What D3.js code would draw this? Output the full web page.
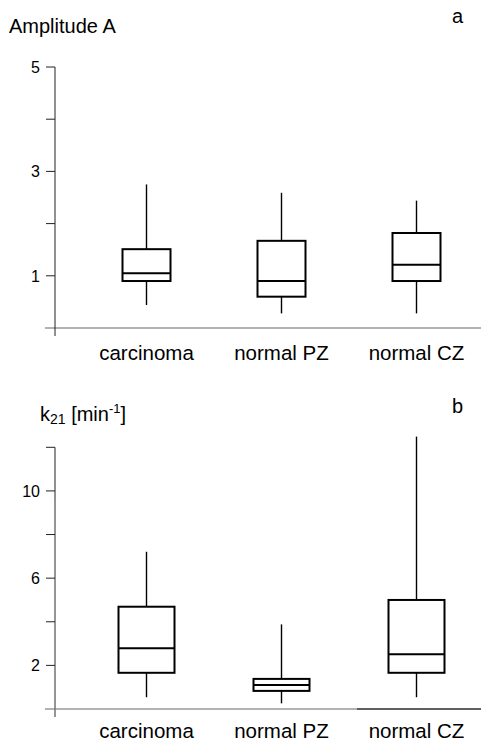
<!DOCTYPE html>
<html>
<head>
<meta charset="utf-8">
<script src="https://cdn.jsdelivr.net/npm/d3@7"></script>
<style>
  body { margin: 0; background: #fff; }
  text { font-family: "Liberation Sans", Arial, sans-serif; fill: #000; }
</style>
</head>
<body>
<svg id="chart"></svg>
<script>
const categories = ["carcinoma", "normal PZ", "normal CZ"];

// box stats: [min, q1, median, q3, max]
const amplitudeStats = [
    [0.44, 0.90, 1.05, 1.51, 2.75],
    [0.28, 0.60, 0.90, 1.67, 2.59],
    [0.28, 0.90, 1.21, 1.82, 2.44]
];
const k21Stats = [
    [0.54, 1.66, 2.78, 4.69, 7.21],
    [0.26, 0.83, 1.10, 1.38, 3.88],
    [0.54, 1.66, 2.51, 5.00, 12.49]
];

const amplitudeMajor = [1, 3, 5], amplitudeMinor = [2, 4];
const k21Major = [2, 6, 10], k21Minor = [4, 8, 12];

(function () {
    const width = 481, height = 746;
    const svg = d3.select("#chart").attr("width", width).attr("height", height);

    const x = d3.scaleBand().domain(categories).range([79, 484]);
    const axisX = 55;

    function panel(opts) {
        const y = d3.scaleLinear().domain(opts.domain).range(opts.range);
        const g = svg.append("g");
        const y0 = y(0);

        // x axis line
        g.append("line")
            .attr("x1", axisX - 10).attr("x2", width)
            .attr("y1", y0).attr("y2", y0)
            .attr("stroke", opts.xAxisColor).attr("stroke-width", 1.3);
        if (opts.xDarkFrom) {
            g.append("line")
                .attr("x1", opts.xDarkFrom).attr("x2", width)
                .attr("y1", y0).attr("y2", y0)
                .attr("stroke", "#444").attr("stroke-width", 1.3);
        }

        // y axis line
        const yTop = y(opts.domain[1]);
        g.append("line")
            .attr("x1", axisX).attr("x2", axisX)
            .attr("y1", yTop).attr("y2", y0 + 8)
            .attr("stroke", "#222").attr("stroke-width", 1);
        if (opts.yGreyBelow != null) {
            g.append("line")
                .attr("x1", axisX).attr("x2", axisX)
                .attr("y1", y(opts.yGreyBelow)).attr("y2", y0 + 8)
                .attr("stroke", "#999").attr("stroke-width", 1.2);
        }

        // ticks
        const ticks = opts.major.concat(opts.minor);
        g.selectAll("line.tick")
            .data(ticks)
            .enter()
            .append("line")
            .attr("class", "tick")
            .attr("x1", axisX - 9).attr("x2", axisX)
            .attr("y1", d => y(d)).attr("y2", d => y(d))
            .attr("stroke", "#222").attr("stroke-width", 1);

        g.selectAll("text.tl")
            .data(opts.major)
            .enter()
            .append("text")
            .attr("class", "tl")
            .attr("x", axisX - 15)
            .attr("y", d => y(d))
            .attr("dy", "0.36em")
            .attr("text-anchor", "end")
            .style("font-size", "16px")
            .text(d => d);

        // category labels
        g.selectAll("text.cat")
            .data(categories)
            .enter()
            .append("text")
            .attr("class", "cat")
            .attr("x", d => x(d) + x.bandwidth() / 2)
            .attr("y", y0 + opts.catOffset)
            .attr("text-anchor", "middle")
            .style("font-size", "20.5px")
            .text(d => d);

        // boxes
        const bw = opts.boxWidth;
        const boxes = g.selectAll("g.box")
            .data(opts.stats)
            .enter()
            .append("g")
            .attr("class", "box")
            .attr("transform", (d, i) => `translate(${x(categories[i]) + x.bandwidth() / 2},0)`);

        boxes.append("line")
            .attr("x1", 0).attr("x2", 0)
            .attr("y1", d => y(d[3])).attr("y2", d => y(d[4]))
            .attr("stroke", "#000").attr("stroke-width", 1.4);
        boxes.append("line")
            .attr("x1", 0).attr("x2", 0)
            .attr("y1", d => y(d[0])).attr("y2", d => y(d[1]))
            .attr("stroke", "#000").attr("stroke-width", 1.4);
        boxes.append("rect")
            .attr("x", -bw / 2).attr("width", bw)
            .attr("y", d => y(d[3]))
            .attr("height", d => y(d[1]) - y(d[3]))
            .attr("fill", "#fff").attr("stroke", "#000").attr("stroke-width", 2);
        boxes.append("line")
            .attr("x1", -bw / 2).attr("x2", bw / 2)
            .attr("y1", d => y(d[2])).attr("y2", d => y(d[2]))
            .attr("stroke", "#000").attr("stroke-width", 2);

        return g;
    }

    panel({
        domain: [0, 5], range: [328, 67],
        stats: amplitudeStats, major: amplitudeMajor, minor: amplitudeMinor,
        boxWidth: 48, catOffset: 32, xAxisColor: "#999"
    });

    panel({
        domain: [0, 12], range: [709, 447.3],
        stats: k21Stats, major: k21Major, minor: k21Minor,
        boxWidth: 56, catOffset: 29, xAxisColor: "#999", xDarkFrom: 357, yGreyBelow: 9.6
    });

    // titles
    svg.append("text").attr("x", 9).attr("y", 33)
        .style("font-size", "20px").text("Amplitude A");
    svg.append("text").attr("x", 452).attr("y", 23)
        .style("font-size", "20px").text("a");
    svg.append("text").attr("x", 452).attr("y", 413)
        .style("font-size", "20px").text("b");

    const k = svg.append("text").attr("x", 40).attr("y", 421).style("font-size", "20px");
    k.append("tspan").text("k");
    k.append("tspan").attr("dy", 3).style("font-size", "14px").text("21");
    k.append("tspan").attr("dy", -3).text(" [min");
    k.append("tspan").attr("dy", -8).style("font-size", "13px").text("-1");
    k.append("tspan").attr("dy", 8).text("]");
})();
</script>
</body>
</html>
